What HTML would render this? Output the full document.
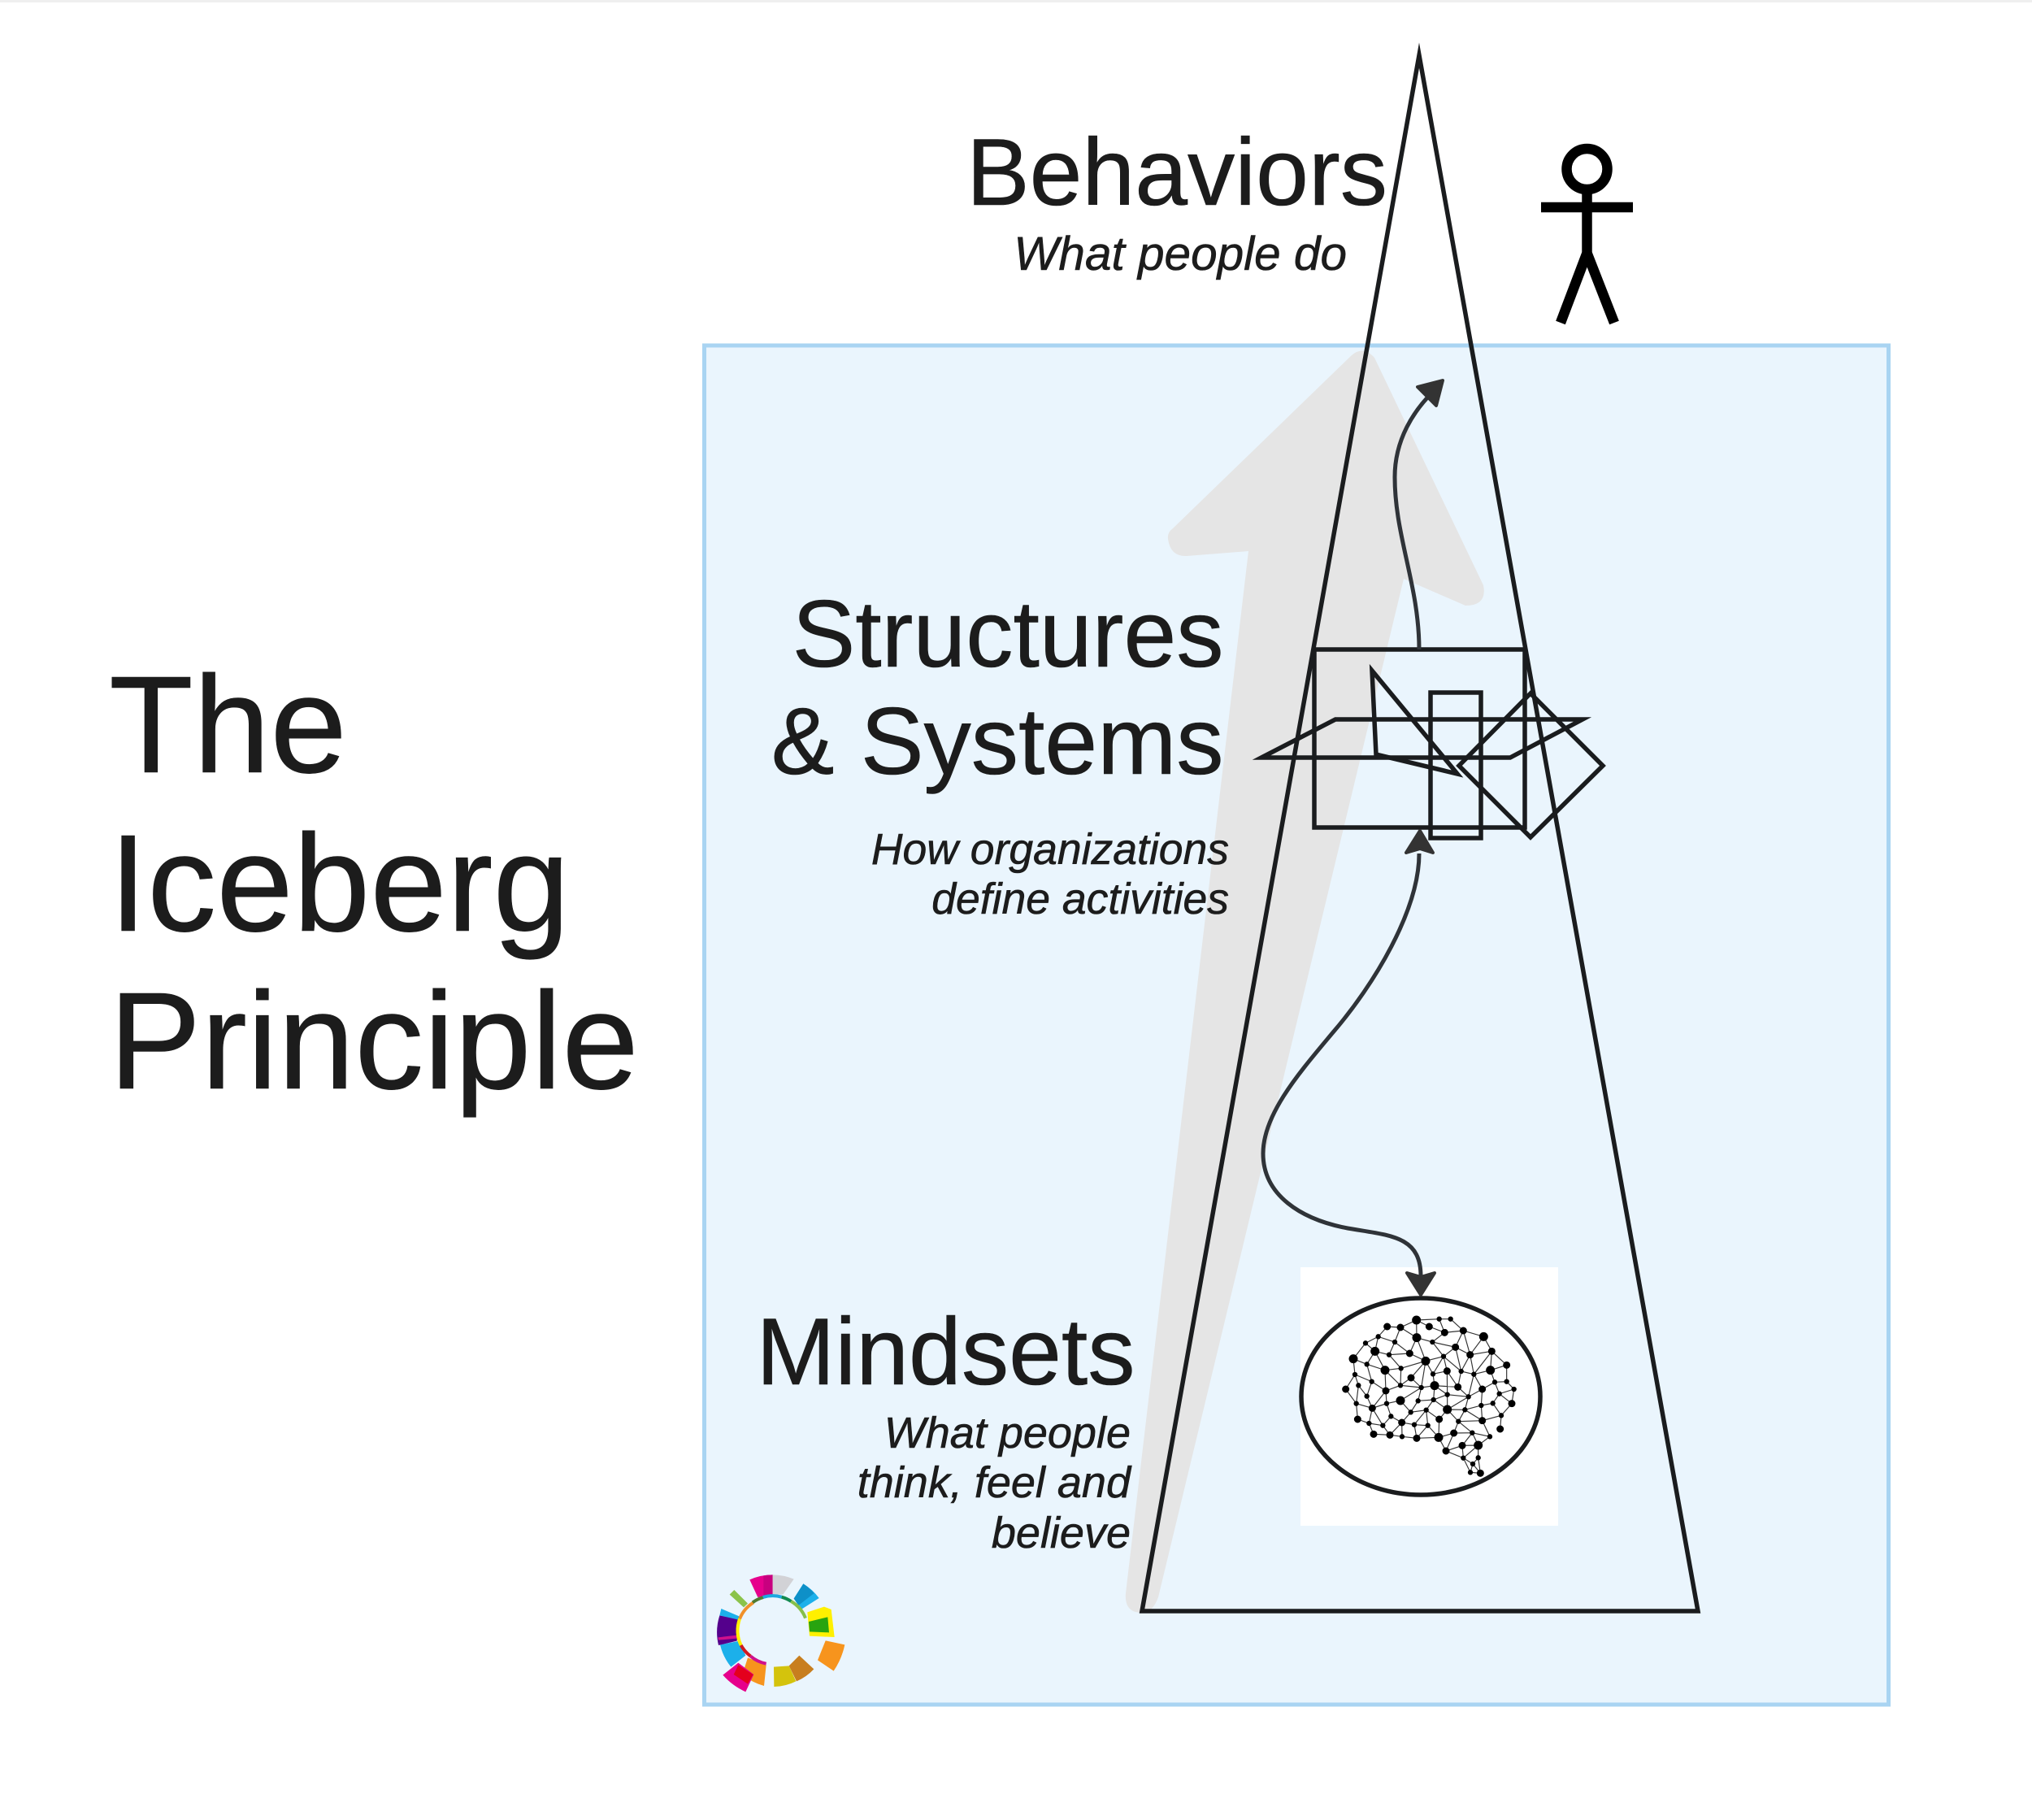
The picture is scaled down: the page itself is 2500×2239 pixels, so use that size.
<!DOCTYPE html>
<html><head><meta charset="utf-8"><title>The Iceberg Principle</title>
<style>html,body{margin:0;padding:0;background:#fff}svg{display:block}
text{font-family:"Liberation Sans",Arial,sans-serif;fill:#1c1c1c;stroke:#1c1c1c;stroke-width:.6px}
.i{font-style:italic;font-size:54px;text-anchor:end}
.h{font-size:116.500px;text-anchor:end}
.t{font-size:170px}</style></head>
<body>
<svg width="2500" height="2239" viewBox="0 0 2500 2239" xmlns="http://www.w3.org/2000/svg">
<rect width="2500" height="2239" fill="#fff"/>
<rect width="2500" height="3" fill="#efefef"/>
<rect x="866.500" y="425" width="1457" height="1672" fill="#eaf5fd" stroke="#a9d4f2" stroke-width="5"/>
<path d="M1385 1960L1536 678L1460 684Q1440 685 1437 663Q1436 655 1443 650L1663 437Q1677 425 1691 440L1825 720Q1830 745 1803 745L1727 712L1425 1965Q1418 1984 1405 1984Q1383 1984 1385 1960Z" fill="#e5e5e5"/>
<rect x="1600" y="1559" width="317" height="318" fill="#fff"/>
<g fill="none" stroke="#1a1c1e" stroke-width="5.500" stroke-miterlimit="30">
<polygon points="1746,68 1405,1982 2089,1982"/>
<rect x="1617" y="799" width="259" height="219"/>
<polygon points="1688,825 1693,928 1793,952"/>
<rect x="1760" y="852" width="62" height="179"/>
<polygon points="1552,932 1643,885 1947,885 1858,932"/>
<polygon points="1883,853 1972,942 1883,1030 1795,942"/>
<ellipse cx="1748" cy="1718" rx="147" ry="121"/>
</g>
<g fill="none" stroke="#2f3338" stroke-width="5">
<path d="M1746 799C1746 720 1716 660 1716 587C1716 540 1740 505 1762 483"/>
<path d="M1746 1050C1746 1120 1690 1212 1640 1270C1600 1318 1554 1370 1554 1419C1554 1470 1600 1500 1658 1511C1710 1520 1748 1520 1748 1570"/>
</g>
<g fill="#333" stroke="#333" stroke-width="4" stroke-linejoin="round">
<polygon points="1775,468 1744,476 1767,499"/>
<polygon points="1747,1022 1730,1049 1747,1044 1763,1049"/>
<polygon points="1748,1593 1731,1566 1748,1571 1765,1566"/>
</g>
<g fill="none" stroke="#000" stroke-width="12.500">
<circle cx="1952.500" cy="208" r="25"/>
<path d="M1896 255H2009M1952.500 232V314M1953 310L1920 397M1952 310L1986 397"/>
</g>
<text class="t" x="134" y="950">The</text>
<text class="t" x="134" y="1145">Iceberg</text>
<text class="t" x="134" y="1339">Principle</text>
<text class="h" x="1707" y="252">Behaviors</text>
<text class="i" x="1657" y="332" style="font-size:58.500px">What people do</text>
<text class="h" x="1505.500" y="820">Structures</text>
<text class="h" x="1505.500" y="952">&amp; Systems</text>
<text class="i" x="1512" y="1063" style="font-size:53.500px">How organizations</text>
<text class="i" x="1512" y="1124" style="font-size:53.500px">define activities</text>
<text class="h" x="1396.500" y="1703">Mindsets</text>
<text class="i" x="1391" y="1781">What people</text>
<text class="i" x="1391" y="1842">think, feel and</text>
<text class="i" x="1391" y="1904">believe</text>
<g transform="translate(1580 1540) scale(.33333)">
<path fill="none" stroke="#333" stroke-width="3.500" d="M488 252L572 248L614 248L661 291L736 313L766 367L821 418L821 479L848 507L840 560L801 604L797 654M488 252L429 279L380 276L347 313L300 337L255 395L261 453L227 507L266 560L271 618L313 633L330 673L390 676L435 682L489 688L570 685L597 735L661 761L687 814L724 817L716 760L716 714L759 682L731 623L801 604M488 252L535 276L592 298L661 291M572 248L592 298M488 252L489 317L429 279L408 333L347 313L335 367L300 337M408 333L387 380L335 367L372 437L305 415L335 367M255 395L305 415L323 479L261 453L274 493L266 560L325 577L305 533L274 493M408 333L463 375L387 380L431 430L372 437L429 493L431 430L522 403L463 375L489 317L547 333L592 298M489 317L522 403L549 451L601 440L588 386L522 403L468 465L506 501L522 403M547 333L632 352L661 291M547 333L588 386L632 352L686 380L661 291M736 313L686 380L766 367L761 437L700 452L686 380L653 441L632 352M588 386L653 441L700 452L766 367M588 386L549 451L555 494L506 501L429 493L468 465M601 440L602 527L602 582M601 440L641 499L653 441M761 437L821 418M761 437L777 481L821 479M700 452L680 535M700 452L731 507L777 481L794 524L848 507M794 524L840 560M794 524L770 559L801 604M731 507L680 535L641 499L555 494L602 527L551 546L555 494M731 507L727 567L770 559M680 535L602 527M680 535L602 582M680 535L667 583L602 582M667 583L727 567L731 623L667 583L643 626L731 623M323 479L375 513L429 493M323 479L305 533M375 513L372 437M375 513L378 560L429 549L506 501L494 550L467 592L429 549M375 513L325 577L378 560L394 607L364 641L390 676L434 630L394 607M325 577L364 641L313 633L325 577M494 550L551 546L524 584L467 592L434 630L480 638L530 641L524 584L480 638L489 688L530 641L570 685L572 618L524 584M551 546L602 582L572 618M434 630L435 682M602 582L643 626L626 669L570 685M643 626L694 668L759 682M626 669L694 668L657 715L597 735L626 669M657 715L716 714L661 761L657 715M694 668L716 714M661 761L696 783L716 760M696 783L724 817M696 783L687 814"/>
<g fill="#000" stroke="#000" stroke-width="3"><circle cx="488" cy="252" r="15"/><circle cx="572" cy="248" r="8"/><circle cx="614" cy="248" r="8"/><circle cx="380" cy="276" r="12"/><circle cx="429" cy="279" r="12"/><circle cx="535" cy="276" r="12"/><circle cx="592" cy="298" r="12"/><circle cx="661" cy="291" r="12"/><circle cx="736" cy="313" r="15"/><circle cx="347" cy="313" r="8"/><circle cx="489" cy="317" r="15"/><circle cx="547" cy="333" r="8"/><circle cx="408" cy="333" r="8"/><circle cx="300" cy="337" r="8"/><circle cx="632" cy="352" r="12"/><circle cx="335" cy="367" r="15"/><circle cx="766" cy="367" r="12"/><circle cx="463" cy="375" r="12"/><circle cx="387" cy="380" r="8"/><circle cx="686" cy="380" r="12"/><circle cx="588" cy="386" r="8"/><circle cx="255" cy="395" r="15"/><circle cx="522" cy="403" r="15"/><circle cx="305" cy="415" r="8"/><circle cx="821" cy="418" r="12"/><circle cx="431" cy="430" r="8"/><circle cx="372" cy="437" r="15"/><circle cx="761" cy="437" r="15"/><circle cx="601" cy="440" r="12"/><circle cx="653" cy="441" r="8"/><circle cx="549" cy="451" r="8"/><circle cx="700" cy="452" r="8"/><circle cx="261" cy="453" r="8"/><circle cx="468" cy="465" r="12"/><circle cx="323" cy="479" r="8"/><circle cx="777" cy="481" r="8"/><circle cx="821" cy="479" r="8"/><circle cx="274" cy="493" r="8"/><circle cx="429" cy="493" r="8"/><circle cx="555" cy="494" r="15"/><circle cx="641" cy="499" r="12"/><circle cx="506" cy="501" r="8"/><circle cx="227" cy="507" r="12"/><circle cx="731" cy="507" r="12"/><circle cx="848" cy="507" r="8"/><circle cx="375" cy="513" r="12"/><circle cx="794" cy="524" r="8"/><circle cx="602" cy="527" r="8"/><circle cx="305" cy="533" r="8"/><circle cx="680" cy="535" r="8"/><circle cx="551" cy="546" r="8"/><circle cx="429" cy="549" r="15"/><circle cx="494" cy="550" r="8"/><circle cx="266" cy="560" r="8"/><circle cx="378" cy="560" r="8"/><circle cx="840" cy="560" r="12"/><circle cx="770" cy="559" r="8"/><circle cx="727" cy="567" r="8"/><circle cx="325" cy="577" r="12"/><circle cx="602" cy="582" r="15"/><circle cx="667" cy="583" r="8"/><circle cx="524" cy="584" r="8"/><circle cx="467" cy="592" r="8"/><circle cx="801" cy="604" r="8"/><circle cx="394" cy="607" r="8"/><circle cx="271" cy="618" r="12"/><circle cx="572" cy="618" r="12"/><circle cx="731" cy="623" r="12"/><circle cx="643" cy="626" r="8"/><circle cx="434" cy="630" r="12"/><circle cx="313" cy="633" r="8"/><circle cx="480" cy="638" r="8"/><circle cx="530" cy="641" r="8"/><circle cx="364" cy="641" r="8"/><circle cx="797" cy="654" r="12"/><circle cx="626" cy="669" r="12"/><circle cx="694" cy="668" r="8"/><circle cx="330" cy="673" r="12"/><circle cx="390" cy="676" r="12"/><circle cx="435" cy="682" r="8"/><circle cx="759" cy="682" r="8"/><circle cx="489" cy="688" r="12"/><circle cx="570" cy="685" r="15"/><circle cx="716" cy="714" r="15"/><circle cx="657" cy="715" r="12"/><circle cx="597" cy="735" r="12"/><circle cx="661" cy="761" r="8"/><circle cx="716" cy="760" r="8"/><circle cx="696" cy="783" r="8"/><circle cx="687" cy="814" r="8"/><circle cx="724" cy="817" r="12"/></g>
</g>
<g transform="translate(860 1920) scale(.33333)">
<polygon points="113,125 130,108 180,158 165,172" fill="#8bc34a"/>
<path d="M187 70A205 205 0 0 1 272 52L272 125L217 135Z" fill="#e6008c"/>
<path d="M238 55A205 205 0 0 1 272 52L272 125L238 130Z" fill="#c8007f"/>
<path d="M272 52A205 205 0 0 1 350 68L310 125L272 125Z" fill="#d2d2d6"/>
<path d="M385 85A205 205 0 0 1 443 138L380 178L350 140Z" fill="#1cb0ea"/>
<path d="M385 85A205 205 0 0 1 425 120L367 165L350 140Z" fill="#0e90c8"/>
<polygon points="400,190 462,170 488,180 500,282 408,278" fill="#fff000"/>
<polygon points="405,225 475,208 480,265 408,262" fill="#28a40f"/>
<path d="M538 310A270 270 0 0 1 497 407L438 367L467 295Z" fill="#f7941d"/>
<path d="M424 400A190 190 0 0 1 360 445L332 388L370 350Z" fill="#c87e1e"/>
<path d="M358 445A190 190 0 0 1 277 465L276 392L332 388Z" fill="#d4c30c"/>
<path d="M240 462A210 210 0 0 1 160 420L180 358L248 385Z" fill="#f7941d"/>
<path d="M172 484A250 250 0 0 1 88 422L145 377L202 420Z" fill="#e6008c"/>
<polygon points="145,385 200,420 180,455 128,420" fill="#e4001c"/>
<path d="M118 392A205 205 0 0 1 78 310L150 296L172 350Z" fill="#1cb0ea"/>
<path d="M72 312A205 205 0 0 1 76 202L146 216L140 296Z" fill="#54008c"/>
<polygon points="70,283 140,275 140,287 72,293" fill="#d0108c"/>
<polygon points="82,177 148,205 145,218 76,202" fill="#1cb0ea"/>
<g fill="none" stroke-width="12">
<path d="M150 215A124 124 0 0 1 200 155" stroke="#f0902a"/>
<path d="M198 154A124 124 0 0 1 238 135" stroke="#4f7a30"/>
<path d="M236 135A124 124 0 0 1 305 134" stroke="#1ca8e0"/>
<path d="M305 134A124 124 0 0 1 340 150" stroke="#138a50"/>
<path d="M340 150A124 124 0 0 1 393 212" stroke="#86bf4a"/>
<path d="M150 215A124 124 0 0 0 155 312" stroke="#fff000"/>
<path d="M155 312A124 124 0 0 0 190 352" stroke="#d01a20"/>
<path d="M190 352A124 124 0 0 0 248 380" stroke="#d0108c"/>
</g>
</g>
</svg>
</body></html>
